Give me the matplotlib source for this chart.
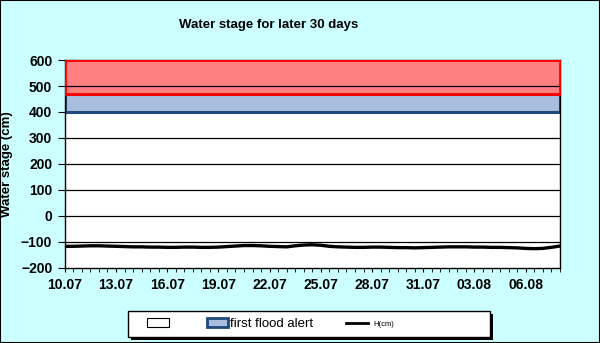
import numpy as np
import matplotlib.pyplot as plt
from matplotlib.patches import Rectangle
from matplotlib.lines import Line2D

plt.rcParams['font.family'] = ['Liberation Sans', 'DejaVu Sans']

# water stage readings every 12 hours, 10.07 .. 08.08 (cm)
stage = [-117, -117, -116, -115, -115, -116, -117,
         -118, -119, -119, -120, -120, -121, -121, -120,
         -120, -121, -121, -120, -118, -116,
         -114, -114, -115, -117, -118, -119,
         -115, -112, -111, -113,
         -117, -119, -120, -121, -121, -120, -120, -121,
         -122, -122, -123, -122, -121, -120, -119, -119,
         -119, -120, -120, -121, -121, -122,
         -123, -125, -126, -125, -121, -116]
days = np.arange(len(stage)) * 0.5

# alert levels (cm)
first_alert = 400
second_alert = 470
band_top = 600

tick_days = [0, 3, 6, 9, 12, 15, 18, 21, 24, 27]
tick_labels = ['10.07', '13.07', '16.07', '19.07', '22.07',
               '25.07', '28.07', '31.07', '03.08', '06.08']

bg = '#CCFFFF'
W, H = 600, 343
fig = plt.figure(figsize=(6, 3.43), dpi=100, facecolor=bg)
fig.patches.append(Rectangle((0, 0), 1, 1, transform=fig.transFigure,
                             fill=False, edgecolor='black', linewidth=1.5))
ax = fig.add_axes([0.108, 0.219, 0.825, 0.606])
ax.set_facecolor('white')

span = [days[0], days[-1]]
ax.fill_between(span, first_alert, second_alert, facecolor='#A9BEDC',
                edgecolor='#1F497D', linewidth=2.2, zorder=2)
ax.fill_between(span, second_alert, band_top, facecolor='#FF8080',
                edgecolor='#FF0000', linewidth=2, zorder=3)

# gridlines; the first alert level keeps its own dark blue edge
for v in range(-100, 600, 100):
    if v != first_alert:
        ax.axhline(v, color='black', linewidth=0.9, zorder=4)

ax.plot(days, stage, color='black', linewidth=2.4, zorder=5)

ax.set_xlim(days[0], days[-1])
ax.set_ylim(-200, 600)
ax.set_yticks(range(-200, 601, 100))
ax.set_xticks(tick_days)
ax.set_xticklabels(tick_labels)
ax.set_xticks(np.arange(0, days[-1] + 0.01, 0.5), minor=True)
ax.tick_params(axis='x', which='both', direction='out', length=3, pad=4)
ax.tick_params(axis='y', direction='out', length=5, pad=4)
for lab in ax.get_xticklabels() + ax.get_yticklabels():
    lab.set_fontweight('bold')
    lab.set_fontsize(10)
for s in ax.spines.values():
    s.set_color('black')
    s.set_linewidth(1)

ax.set_ylabel('Water stage (cm)', fontsize=9.5, fontweight='bold', labelpad=6)
fig.text(0.447, 0.927, 'Water stage for later 30 days', ha='center',
         va='center', fontsize=9.5, fontweight='bold')

# legend box with a hard drop shadow
bx, by, bw, bh = 128 / W, 6 / H, 362 / W, 26 / H
fig.patches.append(Rectangle((bx + 3 / W, by - 3 / H), bw, bh,
                             transform=fig.transFigure, facecolor='black'))
fig.patches.append(Rectangle((bx, by), bw, bh, transform=fig.transFigure,
                             facecolor='white', edgecolor='black', linewidth=1))

handles = [Rectangle((0, 0), 1, 1, facecolor='white', edgecolor='black', linewidth=0.8),
           Rectangle((0, 0), 1, 1, facecolor='#A9BEDC', edgecolor='#1F497D', linewidth=2),
           Line2D([0], [0], color='black', linewidth=2)]
leg = fig.legend(handles, [' ', 'first flood alert', ''], ncol=3,
                 loc='center left', bbox_to_anchor=(147 / W, by + bh / 2),
                 frameon=False, fontsize=9.5, handlelength=1.65,
                 handleheight=0.6, handletextpad=0.1, columnspacing=2.5,
                 borderpad=0, borderaxespad=0)
# the series name is printed much smaller than the other entries
fig.text(373 / W, by + bh / 2, 'H(cm)', fontsize=5.5, va='center', ha='left')

fig.savefig('out.png', dpi=100, facecolor=bg)
